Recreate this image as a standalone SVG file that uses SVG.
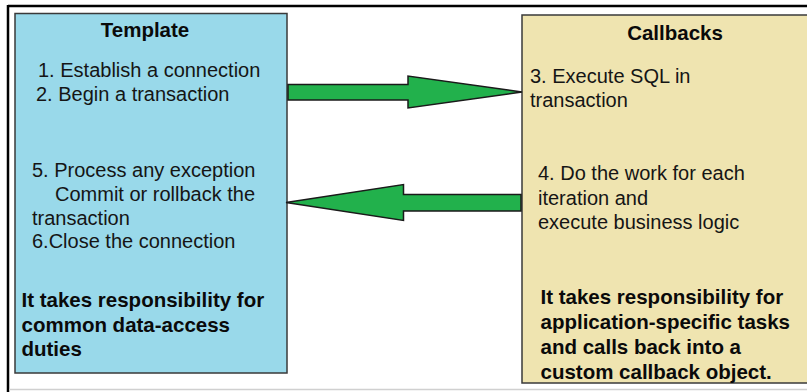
<svg xmlns="http://www.w3.org/2000/svg" width="807" height="392" viewBox="0 0 807 392">
<style>
.box{stroke:#3a3a3a;stroke-width:1.5}
.t{font-family:"Liberation Sans",Arial,sans-serif;font-size:20px;fill:#151515}
.b{font-family:"Liberation Sans",Arial,sans-serif;font-size:20.5px;font-weight:bold;fill:#0a0a0a}
.arr{fill:#22B14C;stroke:#1a1a1a;stroke-width:1.5;stroke-linejoin:miter}
</style>
<rect x="0" y="0" width="807" height="392" fill="#ffffff"/>
<g id="frame">
<line x1="8" y1="6" x2="807" y2="6" stroke="#000" stroke-width="2.5"/>
<line x1="8" y1="5" x2="8" y2="392" stroke="#000" stroke-width="2.5"/>
<line x1="9" y1="389.5" x2="807" y2="389.5" stroke="#d0d0d0" stroke-width="1.5"/>
</g>
<g id="template">
<rect class="box" x="15" y="13.5" width="272" height="359.5" fill="#99D9EA"/>
<text class="b" x="145" y="37" text-anchor="middle">Template</text>
<text class="t" x="38" y="77">1. Establish a connection</text>
<text class="t" x="36" y="100.5">2. Begin a transaction</text>
<text class="t" x="32" y="177">5. Process any exception</text>
<text class="t" x="55" y="201">Commit or rollback the</text>
<text class="t" x="32" y="224.5">transaction</text>
<text class="t" x="32" y="248">6.Close the connection</text>
<text class="b" x="21.5" y="307">It takes responsibility for</text>
<text class="b" x="21.5" y="332">common data-access</text>
<text class="b" x="21.5" y="356">duties</text>
</g>
<g id="callbacks">
<rect class="box" x="522" y="15" width="300" height="368" fill="#EFE4B0"/>
<text class="b" x="675" y="40" text-anchor="middle">Callbacks</text>
<text class="t" x="530" y="83">3. Execute SQL in</text>
<text class="t" x="530" y="106.5">transaction</text>
<text class="t" x="538" y="180">4. Do the work for each</text>
<text class="t" x="538" y="205">iteration and</text>
<text class="t" x="538" y="228.5">execute business logic</text>
<text class="b" x="540.5" y="303.5">It takes responsibility for</text>
<text class="b" x="540.5" y="328.5">application-specific tasks</text>
<text class="b" x="540.5" y="353.5">and calls back into a</text>
<text class="b" x="540.5" y="378.5">custom callback object.</text>
</g>
<g id="connectors">
<polygon class="arr" points="288,84.5 408,84.5 408,76 522,92 408,108 408,100 288,100"/>
<polygon class="arr" points="521,194.5 403.5,194.5 403.5,184.5 286,202.5 403.5,220.5 403.5,211 521,211"/>
</g>
</svg>
